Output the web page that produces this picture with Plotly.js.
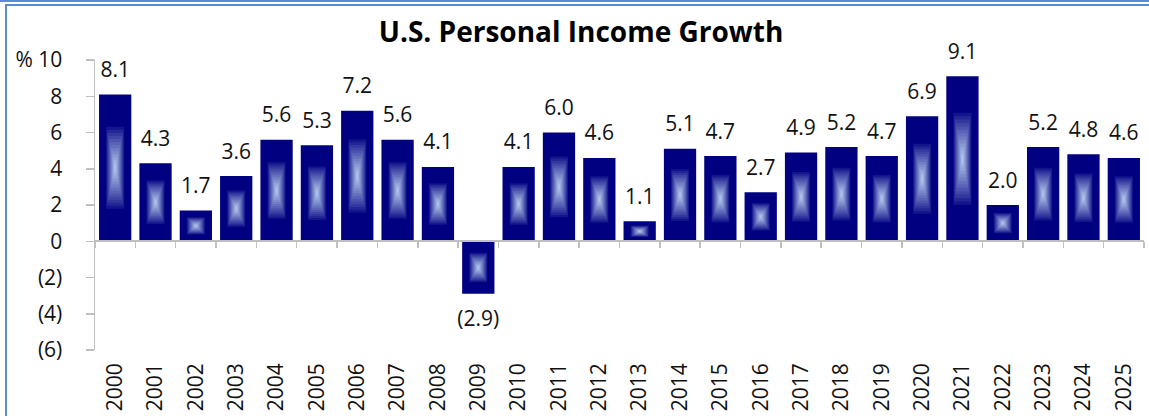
<!DOCTYPE html>
<html>
<head>
<meta charset="utf-8">
<script src="https://cdn.plot.ly/plotly-3.0.1.min.js"></script>
<style>
  html, body { margin: 0; padding: 0; background: #ffffff; }
  #wrap { position: relative; width: 1149px; height: 416px; overflow: hidden; }
  #chart { position: absolute; left: 0; top: 0; width: 1149px; height: 416px; }
  .frameTop { position: absolute; left: 0; top: 0; width: 1149px; height: 2px; background: #5b8bd0; z-index: 5; pointer-events: none; }
  .frameBox { position: absolute; left: 5px; top: 4px; width: 1200px; height: 500px; border-top: 2px solid #5b8bd0; border-left: 2px solid #5b8bd0; z-index: 5; pointer-events: none; }
</style>
</head>
<body>
<div id="wrap">
  <div id="chart"></div>
  <div class="frameTop"></div>
  <div class="frameBox"></div>
</div>
<script>
// ---- Data ----
const years = ['2000','2001','2002','2003','2004','2005','2006','2007','2008','2009',
               '2010','2011','2012','2013','2014','2015','2016','2017','2018','2019',
               '2020','2021','2022','2023','2024','2025'];
const growth = [8.1, 4.3, 1.7, 3.6, 5.6, 5.3, 7.2, 5.6, 4.1, -2.9,
                4.1, 6.0, 4.6, 1.1, 5.1, 4.7, 2.7, 4.9, 5.2, 4.7,
                6.9, 9.1, 2.0, 5.2, 4.8, 4.6];
const yTickVals = [10, 8, 6, 4, 2, 0, -2, -4, -6];
const yTickText = ['% 10', '8', '6', '4', '2', '0', '(2)', '(4)', '(6)'];
const chartTitle = 'U.S. Personal Income Growth';

// ---- Styling ----
const FONT = 'Open Sans, Noto Sans, sans-serif';
const NAVY = [0, 0, 128];
const LIGHT = [182, 202, 238];
const BAR_W = 0.8;
const AXIS_GREY = '#c0c0c0';

function mix(s) {
  const c = NAVY.map((a, i) => Math.round(a + (LIGHT[i] - a) * s));
  return 'rgb(' + c.join(',') + ')';
}

const traces = [];
// outer solid bar
traces.push({
  type: 'bar', x: years, y: growth, width: BAR_W,
  marker: { color: mix(0), line: { width: 0 } },
  hoverinfo: 'skip', showlegend: false
});
// nested layers to simulate a rectangular centre gradient
const steps = 15;
for (let k = 0; k < steps; k++) {
  const t = 0.2 + 0.29 * k / (steps - 1);
  const s = Math.pow(k / (steps - 1), 0.85);
  traces.push({
    type: 'bar', x: years,
    y: growth.map(v => v * (1 - 2 * t)),
    base: growth.map(v => v * t),
    width: BAR_W * (1 - 2 * t),
    marker: { color: mix(s), line: { width: 0 } },
    hoverinfo: 'skip', showlegend: false
  });
}
// data labels
traces.push({
  type: 'scatter', mode: 'markers+text', x: years, y: growth, xaxis: 'x2',
  text: growth.map(v => v < 0 ? '(' + Math.abs(v).toFixed(1) + ')' : v.toFixed(1)),
  textposition: growth.map(v => v < 0 ? 'bottom center' : 'top center'),
  textfont: { family: FONT, size: 21, color: '#111111' },
  marker: { size: growth.map(v => v < 0 ? 24 : 18), opacity: 0 },
  hoverinfo: 'skip', showlegend: false, cliponaxis: false
});

const layout = {
  width: 1149, height: 416,
  margin: { l: 95, r: 5, t: 60, b: 66 },
  paper_bgcolor: 'rgba(0,0,0,0)', plot_bgcolor: 'rgba(0,0,0,0)',
  barmode: 'overlay', bargap: 0.2,
  hovermode: false,
  showlegend: false,
  font: { family: FONT, color: '#111111' },
  title: {
    text: '<b>' + chartTitle + '</b>',
    font: { family: FONT, size: 28, color: '#000000' },
    x: 0.5057, xref: 'container', xanchor: 'center',
    y: 1 - 32 / 416, yref: 'container', yanchor: 'middle'
  },
  xaxis: {
    type: 'category', categoryorder: 'array', categoryarray: years,
    range: [-0.5, years.length - 0.5],
    showgrid: false, zeroline: false, showline: false,
    ticks: '', tickangle: -90,
    tickfont: { family: FONT, size: 21, color: '#111111' },
    ticklabelstandoff: 8
  },
  xaxis2: {
    type: 'category', categoryorder: 'array', categoryarray: years,
    range: [-0.5, years.length - 0.5],
    overlaying: 'x', anchor: 'free', position: 6 / 16,
    showgrid: false, zeroline: false,
    showline: true, linecolor: AXIS_GREY, linewidth: 2,
    ticks: 'outside', tickson: 'boundaries', ticklen: 6, tickcolor: AXIS_GREY, tickwidth: 1.5,
    showticklabels: false
  },
  yaxis: {
    range: [-6, 10], tickvals: yTickVals, ticktext: yTickText,
    showgrid: false, zeroline: false,
    showline: true, linecolor: AXIS_GREY, linewidth: 1.5,
    ticks: 'outside', ticklen: 8, tickcolor: AXIS_GREY, tickwidth: 1.5,
    tickfont: { family: FONT, size: 21, color: '#111111' },
    ticklabelstandoff: 19
  }
};

Plotly.newPlot('chart', traces, layout, { staticPlot: true, displayModeBar: false });
</script>
</body>
</html>
